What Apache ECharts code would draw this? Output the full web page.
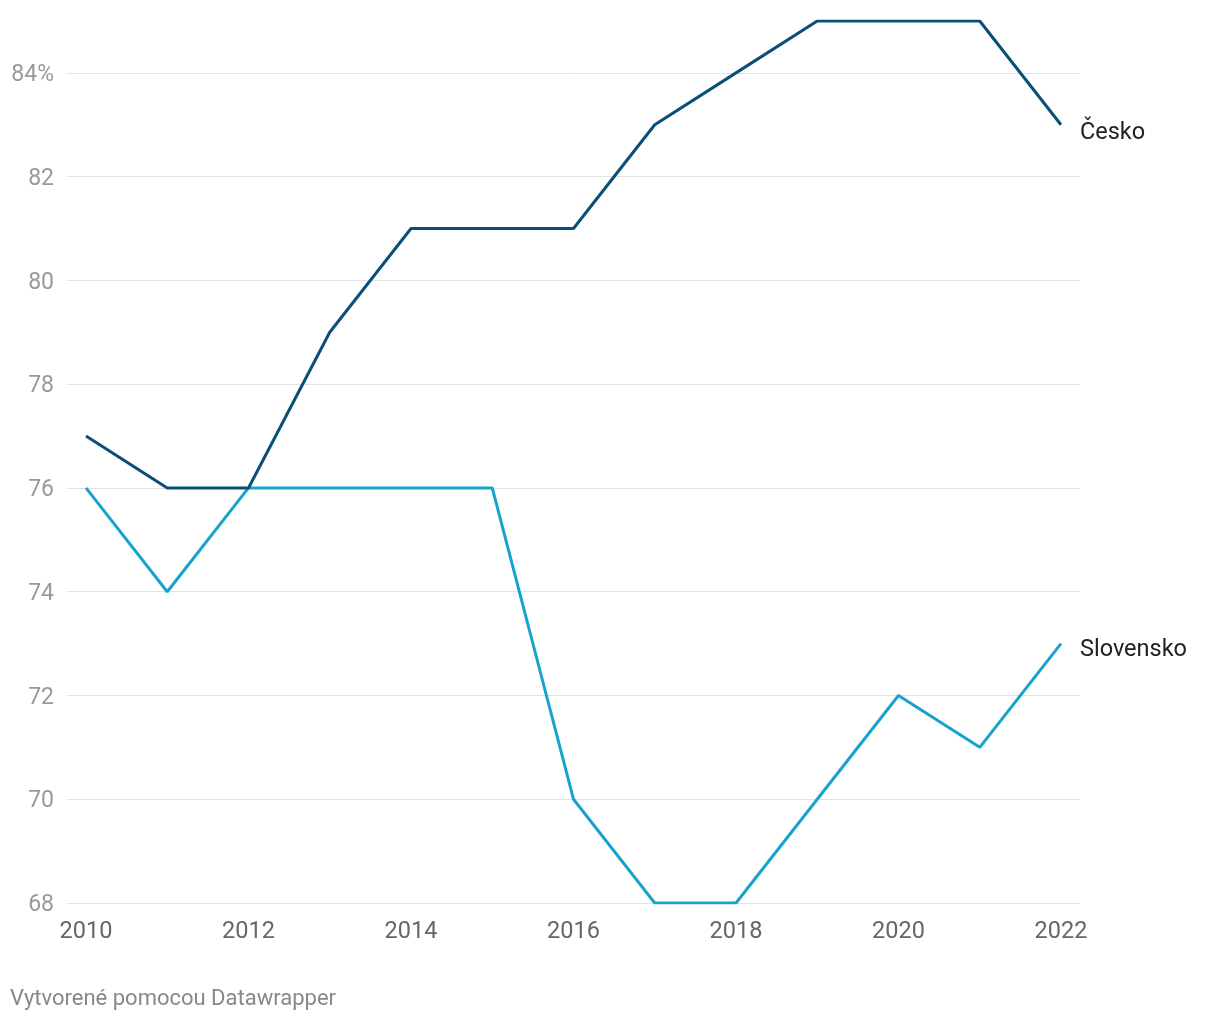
<!DOCTYPE html>
<html>
<head>
<meta charset="utf-8">
<script src="https://cdn.jsdelivr.net/npm/echarts@6/dist/echarts.min.js"></script>
<style>
html,body{margin:0;padding:0;background:#fff;}
#chart{width:1220px;height:1020px;}
</style>
</head>
<body>
<div id="chart"></div>
<script>
const years = [2010,2011,2012,2013,2014,2015,2016,2017,2018,2019,2020,2021,2022];
const cesko = [77,76,76,79,81,81,81,83,84,85,85,85,83];
const slovensko = [76,74,76,76,76,76,70,68,68,70,72,71,73];
const xTickLabels = [2010,2012,2014,2016,2018,2020,2022];
const yTicks = [68,70,72,74,76,78,80,82,84];

const chart = echarts.init(document.getElementById('chart'));
const font = 'Roboto, "Noto Sans", sans-serif';
function pairs(vals){ return years.map((y,i)=>[y, vals[i]]); }
chart.setOption({
  animation: false,
  textStyle: {fontFamily: font},
  grid: {left: 67, right: 140, top: 21, bottom: 117, containLabel: false},
  xAxis: {
    type: 'value', min: 2009.766, max: 2022.234,
    axisLine: {show: false}, axisTick: {show: false}, splitLine: {show: false},
    axisLabel: {customValues: xTickLabels, color: '#666', fontSize: 23.5, margin: 17, fontFamily: font,
      formatter: v => String(v)}
  },
  yAxis: {
    type: 'value', min: 68, max: 85, interval: 2,
    axisLine: {show: false}, axisTick: {show: false},
    splitLine: {show: true, showMaxLine: false, lineStyle: {color: '#e2e2e2', width: 1}},
    axisLabel: {showMaxLabel: false, margin: 13,
      rich: {t: {color: '#999', fontSize: 23, fontFamily: font, padding: [5, 0, 0, 0]}},
      formatter: v => '{t|' + (v === 84 ? '84%' : (yTicks.indexOf(v) >= 0 ? String(v) : '')) + '}'}
  },
  series: [
    {
      name: 'Slovensko', type: 'line', data: pairs(slovensko), showSymbol: false,
      lineStyle: {color: '#18a3cf', width: 3}, itemStyle: {color: '#18a3cf'},
      endLabel: {show: true, formatter: '{a}', color: '#222', fontSize: 23.5, distance: 19, fontFamily: font, offset: [0, 7]}
    },
    {
      name: 'Česko', type: 'line', data: pairs(cesko), showSymbol: false,
      lineStyle: {color: '#0a4f77', width: 3}, itemStyle: {color: '#0a4f77'},
      endLabel: {show: true, formatter: '{a}', color: '#222', fontSize: 23.5, distance: 19, fontFamily: font, offset: [0, 8]}
    }
  ],
  graphic: [{
    type: 'text', left: 10, top: 988,
    style: {text: 'Vytvorené pomocou Datawrapper', fill: '#888', fontSize: 22, fontFamily: font}
  }]
});
</script>
</body>
</html>
